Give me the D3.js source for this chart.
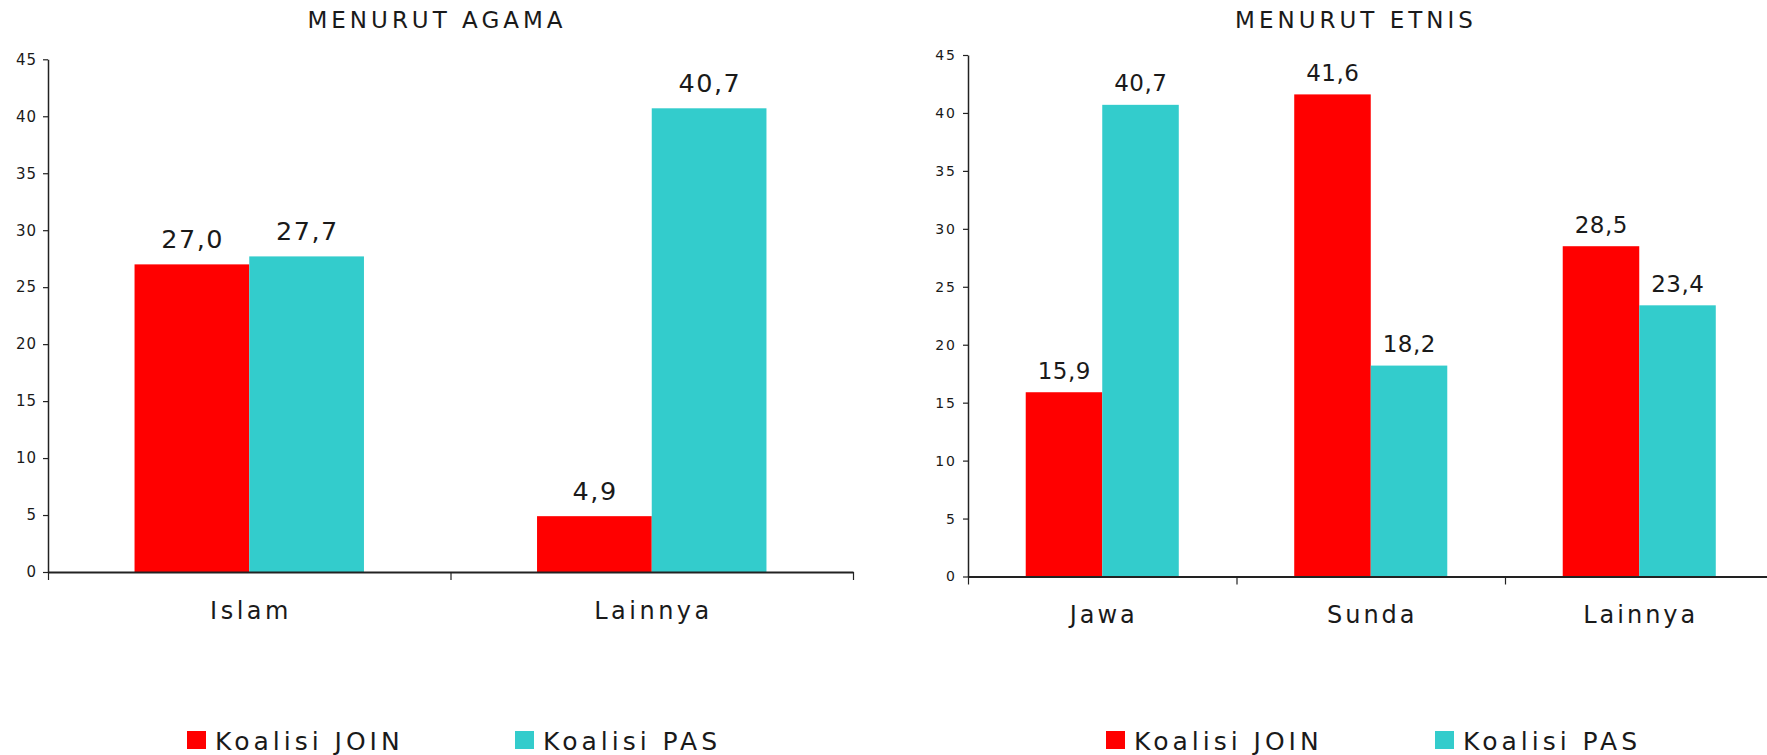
<!DOCTYPE html>
<html>
<head>
<meta charset="utf-8">
<script src="https://cdn.jsdelivr.net/npm/d3@7"></script>
<style>
  html, body { margin: 0; padding: 0; background: #ffffff; }
  svg { display: block; }
  text { font-family: "DejaVu Sans", sans-serif; fill: #1a1a1a; }
</style>
</head>
<body>
<svg id="chart" width="1767" height="755"></svg>
<script>
// ---- data ----
const seriesNames = ["Koalisi JOIN", "Koalisi PAS"];
const seriesColors = ["#ff0000", "#33cccc"];

const agamaTitle = "MENURUT AGAMA";
const agamaCategories = ["Islam", "Lainnya"];
const agamaJoin = [27.0, 4.9];
const agamaPas = [27.7, 40.7];

const etnisTitle = "MENURUT ETNIS";
const etnisCategories = ["Jawa", "Sunda", "Lainnya"];
const etnisJoin = [15.9, 41.6, 28.5];
const etnisPas = [40.7, 18.2, 23.4];

const yTicks = [0, 5, 10, 15, 20, 25, 30, 35, 40, 45];
const yMax = 45;

// ---- drawing ----
const svg = d3.select("#chart");
const fmt = v => d3.format(".1f")(v).replace(".", ",");

function drawChart(cfg) {
  const g = svg.append("g");
  const series = [cfg.join, cfg.pas];

  const x0 = d3.scaleBand()
    .domain(cfg.categories)
    .range(cfg.xRange)
    .paddingInner(0.43)
    .paddingOuter(0.215);
  const x1 = d3.scaleBand()
    .domain(d3.range(series.length))
    .range([0, x0.bandwidth()]);
  const y = d3.scaleLinear().domain([0, yMax]).range(cfg.yRange);

  // bars
  cfg.categories.forEach((c, i) => {
    series.forEach((s, k) => {
      g.append("rect")
        .attr("x", x0(c) + x1(k))
        .attr("y", y(s[i]))
        .attr("width", x1.bandwidth())
        .attr("height", y(0) - y(s[i]))
        .attr("fill", seriesColors[k]);
      g.append("text")
        .attr("x", x0(c) + x1(k) + x1.bandwidth() / 2)
        .attr("dx", cfg.valueLs / 2)
        .attr("y", y(s[i]) - cfg.valueOffset)
        .attr("text-anchor", "middle")
        .style("font-size", cfg.valueSize + "px")
        .style("letter-spacing", cfg.valueLs + "px")
        .text(fmt(s[i]));
    });
  });

  // y axis
  const ya = g.append("g")
    .attr("transform", `translate(${cfg.xRange[0]},0)`)
    .call(d3.axisLeft(y).tickValues(yTicks).tickSize(5).tickPadding(6).tickSizeOuter(0));
  ya.select(".domain").attr("stroke", "#222").attr("stroke-width", 1.5);
  ya.selectAll(".tick line").attr("stroke", "#222").attr("stroke-width", 1.2);
  ya.selectAll(".tick text")
    .style("font-family", '"DejaVu Sans", sans-serif')
    .style("font-size", cfg.tickSize + "px")
    .style("letter-spacing", cfg.tickLs + "px")
    .attr("fill", "#333");

  // x axis with ticks at category boundaries
  const xb = d3.scaleLinear().domain([0, cfg.categories.length]).range(cfg.xRange);
  const xa = g.append("g")
    .attr("transform", `translate(0,${y(0)})`)
    .call(d3.axisBottom(xb)
      .tickValues(d3.range(cfg.categories.length + 1))
      .tickFormat("")
      .tickSize(8)
      .tickSizeOuter(0));
  xa.select(".domain").attr("stroke", "#222").attr("stroke-width", 2);
  xa.selectAll(".tick line").attr("stroke", "#222").attr("stroke-width", 1.2);

  // category labels
  cfg.categories.forEach(c => {
    g.append("text")
      .attr("x", x0(c) + x0.bandwidth() / 2)
      .attr("dx", cfg.catLs / 2)
      .attr("y", y(0) + cfg.catOffset)
      .attr("text-anchor", "middle")
      .style("font-size", cfg.catSize + "px")
      .style("letter-spacing", cfg.catLs + "px")
      .text(c);
  });

  // title
  g.append("text")
    .attr("x", cfg.titleX)
    .attr("dx", 2)
    .attr("y", 28.3)
    .attr("text-anchor", "middle")
    .style("font-size", "23px")
    .style("letter-spacing", "4px")
    .text(cfg.title);

  // legend
  seriesNames.forEach((name, k) => {
    const lx = cfg.legendX[k];
    g.append("rect")
      .attr("x", lx).attr("y", 731)
      .attr("width", 19).attr("height", 18)
      .attr("fill", seriesColors[k]);
    g.append("text")
      .attr("x", lx + 28)
      .attr("y", 749.5)
      .style("font-size", "25px")
      .style("letter-spacing", cfg.legendLs + "px")
      .text(name);
  });
}

drawChart({
  title: agamaTitle, titleX: 435,
  categories: agamaCategories, join: agamaJoin, pas: agamaPas,
  xRange: [48, 853], yRange: [572, 59.3],
  valueSize: 25.5, valueLs: 1.5, valueOffset: 16,
  catSize: 24, catLs: 3.5, catOffset: 47.3,
  tickSize: 15, tickLs: 1,
  legendX: [187, 515], legendLs: 4
});

drawChart({
  title: etnisTitle, titleX: 1354,
  categories: etnisCategories, join: etnisJoin, pas: etnisPas,
  xRange: [968, 1773.5], yRange: [576.5, 55],
  valueSize: 23, valueLs: 0.5, valueOffset: 13.5,
  catSize: 24, catLs: 3, catOffset: 46.8,
  tickSize: 14, tickLs: 2,
  legendX: [1106, 1435], legendLs: 4
});
</script>
</body>
</html>
